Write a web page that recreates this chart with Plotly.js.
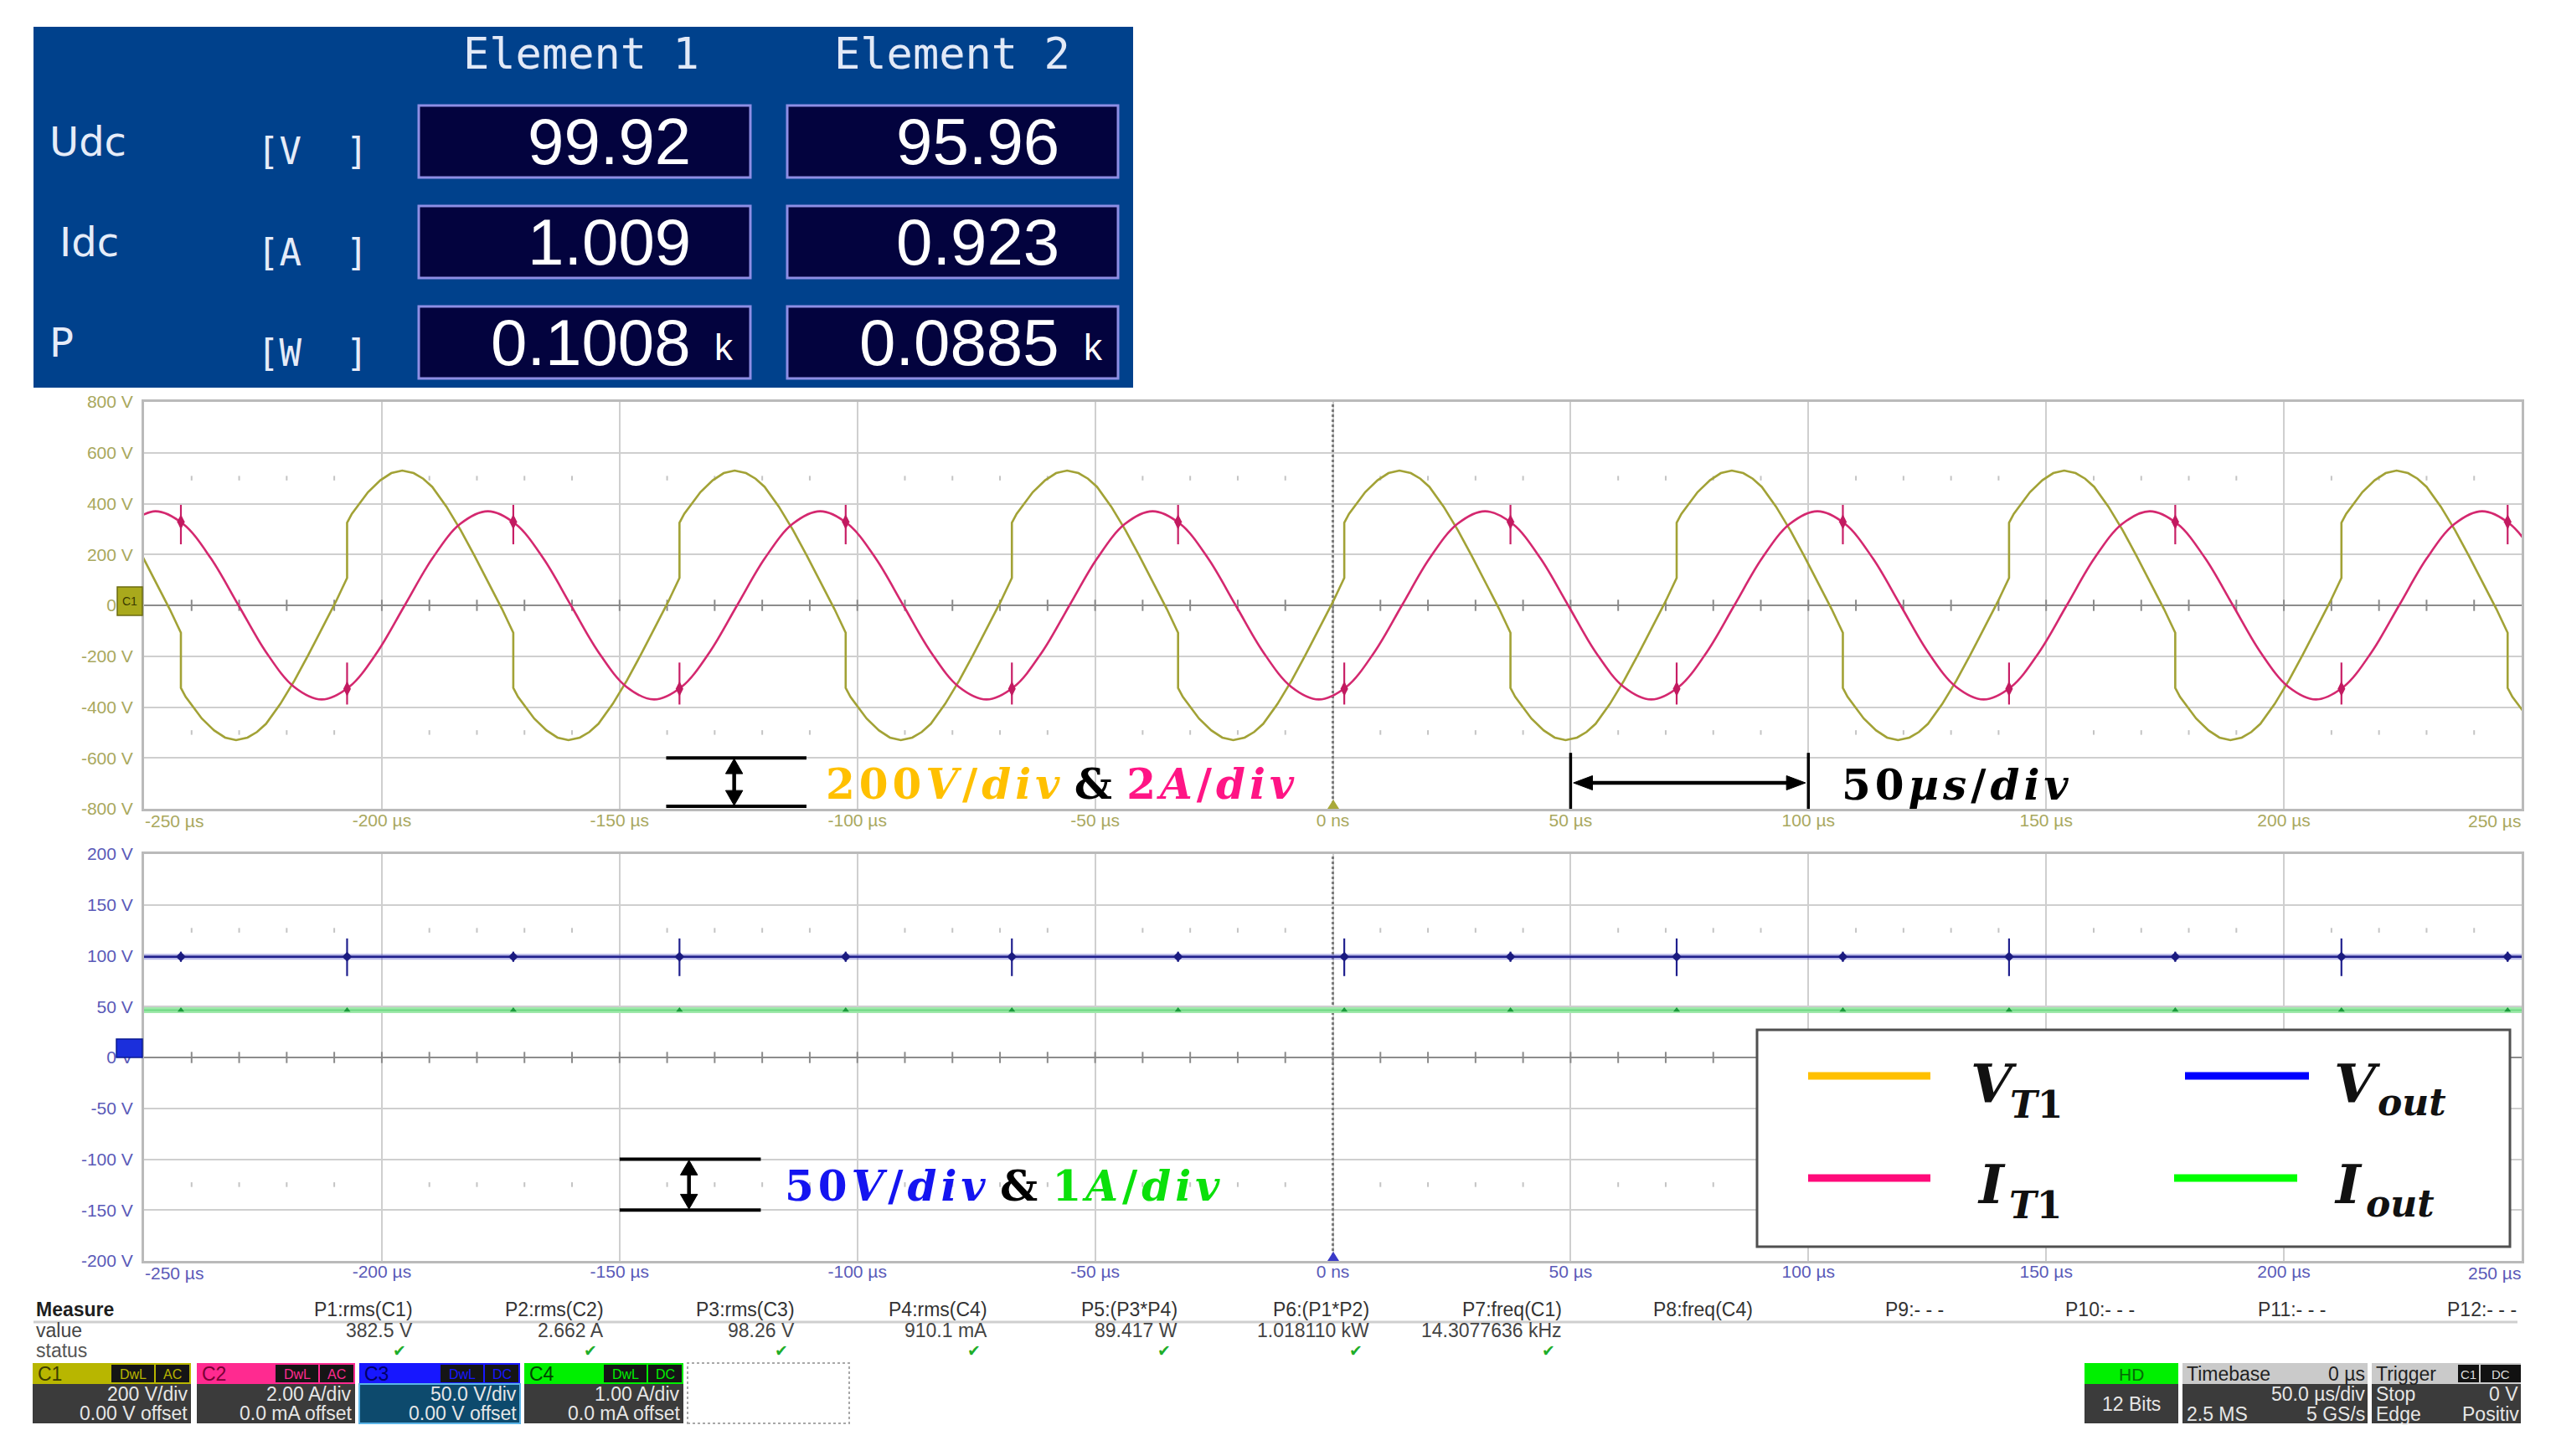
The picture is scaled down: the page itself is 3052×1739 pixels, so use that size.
<!DOCTYPE html>
<html>
<head>
<meta charset="utf-8">
<script src="https://cdn.plot.ly/plotly-3.0.1.min.js"></script>
<style>
html,body{margin:0;padding:0;background:#ffffff;}
#chart{width:3052px;height:1739px;}
</style>
</head>
<body>
<div id="chart"></div>
<script>
// ================= DATA =================
const timeTicks    = [-200,-150,-100,-50,0,50,100,150,200];
const timeTickText = ['-200 µs','-150 µs','-100 µs','-50 µs','0 ns','50 µs','100 µs','150 µs','200 µs'];
const timeEdgeText = ['-250 µs','250 µs'];
const topVoltTicks = [-800,-600,-400,-200,0,200,400,600,800];
const topVoltText  = ['-800 V','-600 V','-400 V','-200 V','0 V','200 V','400 V','600 V','800 V'];
const botVoltTicks = [-200,-150,-100,-50,0,50,100,150,200];
const botVoltText  = ['-200 V','-150 V','-100 V','-50 V','0 V','50 V','100 V','150 V','200 V'];

// VT1 switch voltage (V) vs time (µs)
const vt1_t = [
 -256.3,-253.3,-250.4,-247.5,-244.6,-242.25,
 -242.25,-241.25,-240.25,-237.85,-235.25,-232.95,-230.65,-228.25,-226.25,-224.35,-221.35,-218.35,-215.45,-212.55,-209.65,-207.3,
 -207.3,-206.3,-205.3,-202.9,-200.3,-198.0,-195.7,-193.3,-191.3,-189.4,-186.4,-183.4,-180.5,-177.6,-174.7,-172.35,
 -172.35,-171.35,-170.35,-167.95,-165.35,-163.05,-160.75,-158.35,-156.35,-154.45,-151.45,-148.45,-145.55,-142.65,-139.75,-137.4,
 -137.4,-136.4,-135.4,-133.0,-130.4,-128.1,-125.8,-123.4,-121.4,-119.5,-116.5,-113.5,-110.6,-107.7,-104.8,-102.45,
 -102.45,-101.45,-100.45,-98.05,-95.45,-93.15,-90.85,-88.45,-86.45,-84.55,-81.55,-78.55,-75.65,-72.75,-69.85,-67.5,
 -67.5,-66.5,-65.5,-63.1,-60.5,-58.2,-55.9,-53.5,-51.5,-49.6,-46.6,-43.6,-40.7,-37.8,-34.9,-32.55,
 -32.55,-31.55,-30.55,-28.15,-25.55,-23.25,-20.95,-18.55,-16.55,-14.65,-11.65,-8.65,-5.75,-2.85,0.05,2.4,
 2.4,3.4,4.4,6.8,9.4,11.7,14.0,16.4,18.4,20.3,23.3,26.3,29.2,32.1,35.0,37.35,
 37.35,38.35,39.35,41.75,44.35,46.65,48.95,51.35,53.35,55.25,58.25,61.25,64.15,67.05,69.95,72.3,
 72.3,73.3,74.3,76.7,79.3,81.6,83.9,86.3,88.3,90.2,93.2,96.2,99.1,102.0,104.9,107.25,
 107.25,108.25,109.25,111.65,114.25,116.55,118.85,121.25,123.25,125.15,128.15,131.15,134.05,136.95,139.85,142.2,
 142.2,143.2,144.2,146.6,149.2,151.5,153.8,156.2,158.2,160.1,163.1,166.1,169.0,171.9,174.8,177.15,
 177.15,178.15,179.15,181.55,184.15,186.45,188.75,191.15,193.15,195.05,198.05,201.05,203.95,206.85,209.75,212.1,
 212.1,213.1,214.1,216.5,219.1,221.4,223.7,226.1,228.1,230.0,233.0,236.0,238.9,241.8,244.7,247.05,
 247.05,248.05,249.05,251.45
];
const vt1_v = [
 388,295,195,90,-15,-108,
 -325,-360,-385,-445,-492,-520,-530,-520,-498,-466,-388,-295,-195,-90,15,108,
 325,360,385,445,492,520,530,520,498,466,388,295,195,90,-15,-108,
 -325,-360,-385,-445,-492,-520,-530,-520,-498,-466,-388,-295,-195,-90,15,108,
 325,360,385,445,492,520,530,520,498,466,388,295,195,90,-15,-108,
 -325,-360,-385,-445,-492,-520,-530,-520,-498,-466,-388,-295,-195,-90,15,108,
 325,360,385,445,492,520,530,520,498,466,388,295,195,90,-15,-108,
 -325,-360,-385,-445,-492,-520,-530,-520,-498,-466,-388,-295,-195,-90,15,108,
 325,360,385,445,492,520,530,520,498,466,388,295,195,90,-15,-108,
 -325,-360,-385,-445,-492,-520,-530,-520,-498,-466,-388,-295,-195,-90,15,108,
 325,360,385,445,492,520,530,520,498,466,388,295,195,90,-15,-108,
 -325,-360,-385,-445,-492,-520,-530,-520,-498,-466,-388,-295,-195,-90,15,108,
 325,360,385,445,492,520,530,520,498,466,388,295,195,90,-15,-108,
 -325,-360,-385,-445,-492,-520,-530,-520,-498,-466,-388,-295,-195,-90,15,108,
 325,360,385,445,492,520,530,520,498,466,388,295,195,90,-15,-108,
 -325,-360,-385,-445
];

// IT1 switch current (A) vs time (µs)
const it1_t = [
 -253.43,-247.6,-241.78,-235.95,-230.13,-224.3,-218.48,-212.65,-206.83,-201.0,-195.18,-189.35,
 -183.53,-177.7,-171.88,-166.05,-160.23,-154.4,-148.58,-142.75,-136.93,-131.1,-125.28,-119.45,
 -113.63,-107.8,-101.98,-96.15,-90.33,-84.5,-78.68,-72.85,-67.03,-61.2,-55.38,-49.55,
 -43.73,-37.9,-32.08,-26.25,-20.43,-14.6,-8.78,-2.95,2.88,8.7,14.53,20.35,
 26.18,32.0,37.83,43.65,49.48,55.3,61.13,66.95,72.78,78.6,84.43,90.25,
 96.08,101.9,107.73,113.55,119.38,125.2,131.03,136.85,142.68,148.5,154.33,160.15,
 165.98,171.8,177.63,183.45,189.28,195.1,200.93,206.75,212.58,218.4,224.23,230.05,
 235.88,241.7,247.53,253.35
];
const it1_a = [
 3.20,3.70,3.20,1.85,0,-1.85,-3.20,-3.70,-3.20,-1.85,0,1.85,
 3.20,3.70,3.20,1.85,0,-1.85,-3.20,-3.70,-3.20,-1.85,0,1.85,
 3.20,3.70,3.20,1.85,0,-1.85,-3.20,-3.70,-3.20,-1.85,0,1.85,
 3.20,3.70,3.20,1.85,0,-1.85,-3.20,-3.70,-3.20,-1.85,0,1.85,
 3.20,3.70,3.20,1.85,0,-1.85,-3.20,-3.70,-3.20,-1.85,0,1.85,
 3.20,3.70,3.20,1.85,0,-1.85,-3.20,-3.70,-3.20,-1.85,0,1.85,
 3.20,3.70,3.20,1.85,0,-1.85,-3.20,-3.70,-3.20,-1.85,0,1.85,
 3.20,3.70,3.20,1.85
];

// switching instants (µs) and the spikes seen on each trace there
const sw_t        = [-242.25,-207.3,-172.35,-137.4,-102.45,-67.5,-32.55,2.4,37.35,72.3,107.25,142.2,177.15,212.1,247.05];
const it1_spk_hi  = [3.95,-2.25,3.95,-2.25,3.95,-2.25,3.95,-2.25,3.95,-2.25,3.95,-2.25,3.95,-2.25,3.95];
const it1_spk_lo  = [2.40,-3.90,2.40,-3.90,2.40,-3.90,2.40,-3.90,2.40,-3.90,2.40,-3.90,2.40,-3.90,2.40];
const it1_spk_mid = [3.28,-3.28,3.28,-3.28,3.28,-3.28,3.28,-3.28,3.28,-3.28,3.28,-3.28,3.28,-3.28,3.28];
const vout_spk_hi = [104,117,104,117,104,117,104,117,104,117,104,117,104,117,104];
const vout_spk_lo = [94,80,94,80,94,80,94,80,94,80,94,80,94,80,94];

// output voltage (V) and output current (A)
const vout_t = [-250, 250];
const vout_v = [99.0, 99.0];
const iout_t = [-250, 250];
const iout_a = [0.93, 0.93];

// power analyzer readings
const pa_rows  = ['Udc','Idc','P'];
const pa_units = ['V','A','W'];
const pa_elem1 = ['99.92','1.009','0.1008'];
const pa_elem2 = ['95.96','0.923','0.0885'];
const pa_kilo  = ['','','k'];

// oscilloscope measurement bar
const meas_names = ['P1:rms(C1)','P2:rms(C2)','P3:rms(C3)','P4:rms(C4)','P5:(P3*P4)','P6:(P1*P2)','P7:freq(C1)','P8:freq(C4)','P9:- - -','P10:- - -','P11:- - -','P12:- - -'];
const meas_vals  = ['382.5 V','2.662 A','98.26 V','910.1 mA','89.417 W','1.018110 kW','14.3077636 kHz','','','','',''];
const meas_ok    = [1,1,1,1,1,1,1,0,0,0,0,0];
const chan_names = ['C1','C2','C3','C4'];
const chan_scale = ['200 V/div','2.00 A/div','50.0 V/div','1.00 A/div'];
const chan_off   = ['0.00 V offset','0.0 mA offset','0.00 V offset','0.0 mA offset'];
const chan_cpl   = ['AC','AC','DC','DC'];

// ================= STYLE / LAYOUT =================
const W = 3052, H = 1739;
const px = x => x / W;
const py = y => 1 - y / H;
const SANS   = 'Liberation Sans, Arial, sans-serif';
const NARROW = 'Liberation Sans Narrow, Liberation Sans, Arial, sans-serif';
const MONO   = 'DejaVu Sans Mono, monospace';
const SERIF  = 'DejaVu Serif, serif';
const OLIVE_TXT = '#a9a85e';
const BLUE_TXT  = '#5a5ab8';
const HS = '\u200A';
const sp = s => s.split('').join(HS);

const traces = [];
traces.push({x: vt1_t, y: vt1_v, xaxis:'x', yaxis:'y', mode:'lines', name:'VT1',
  line:{color:'#a2a236', width:2.6}, hoverinfo:'skip'});
traces.push({x: it1_t, y: it1_a, xaxis:'x', yaxis:'y2', mode:'lines', name:'IT1',
  line:{color:'#d4286f', width:2.6, shape:'spline', smoothing:1}, hoverinfo:'skip'});
function spikeXY(t, hi, lo){ const x=[], y=[]; t.forEach((v,i)=>{x.push(v,v,null); y.push(hi[i],lo[i],null);}); return {x, y}; }
const s1 = spikeXY(sw_t, it1_spk_hi, it1_spk_lo);
traces.push({x: s1.x, y: s1.y, xaxis:'x', yaxis:'y2', mode:'lines', line:{color:'#c81f66', width:2.2}, hoverinfo:'skip'});
traces.push({x: sw_t, y: it1_spk_mid, xaxis:'x', yaxis:'y2', mode:'markers',
  marker:{symbol:'diamond-tall', size:13, color:'#c21a60'}, hoverinfo:'skip'});

traces.push({x: vout_t, y: vout_v, xaxis:'x2', yaxis:'y3', mode:'lines', line:{color:'rgba(80,80,200,0.40)', width:7}, hoverinfo:'skip'});
traces.push({x: vout_t, y: vout_v, xaxis:'x2', yaxis:'y3', mode:'lines', name:'Vout', line:{color:'#20208e', width:2.5}, hoverinfo:'skip'});
const s2 = spikeXY(sw_t, vout_spk_hi, vout_spk_lo);
traces.push({x: s2.x, y: s2.y, xaxis:'x2', yaxis:'y3', mode:'lines', line:{color:'#20208e', width:2.2}, hoverinfo:'skip'});
traces.push({x: sw_t, y: sw_t.map(() => vout_v[0]), xaxis:'x2', yaxis:'y3', mode:'markers',
  marker:{symbol:'diamond', size:9, color:'#1a1a80'}, hoverinfo:'skip'});

traces.push({x: iout_t, y: iout_a, xaxis:'x2', yaxis:'y4', mode:'lines', name:'Iout', line:{color:'#9fe8aa', width:7}, hoverinfo:'skip'});
traces.push({x: iout_t, y: iout_a, xaxis:'x2', yaxis:'y4', mode:'lines', line:{color:'#6fd983', width:2}, hoverinfo:'skip'});
traces.push({x: sw_t, y: sw_t.map(() => iout_a[0]), xaxis:'x2', yaxis:'y4', mode:'markers',
  marker:{symbol:'triangle-up', size:7, color:'#1c9a3c'}, hoverinfo:'skip'});

function axisBase(color){
  return {showgrid:true, gridcolor:'#cfcfcf', gridwidth:2, zeroline:false, showline:true, mirror:true,
    linecolor:'#bababa', linewidth:3, ticks:'', tickfont:{family:NARROW, size:21, color:color},
    automargin:false, fixedrange:true, tickmode:'array'};
}
const xdom = [px(172), px(3011)];
const layout = {
  width:W, height:H, margin:{l:0, r:0, t:0, b:0, pad:0},
  paper_bgcolor:'#ffffff', plot_bgcolor:'#ffffff', showlegend:false, font:{family:SANS},
  xaxis: Object.assign(axisBase(OLIVE_TXT), {domain:xdom, anchor:'y', range:[-250,250], tickvals:timeTicks, ticktext:timeTickText, ticklabelstandoff:-7}),
  yaxis: Object.assign(axisBase(OLIVE_TXT), {domain:[py(966), py(480)], anchor:'x', range:[-800,800],
    tickvals:topVoltTicks, ticktext:topVoltText, zeroline:true, zerolinecolor:'#8c8c8c', zerolinewidth:2.5, ticklabelstandoff:6}),
  yaxis2: {overlaying:'y', anchor:'x', range:[-8,8], visible:false, showgrid:false, zeroline:false, fixedrange:true},
  xaxis2: Object.assign(axisBase(BLUE_TXT), {domain:xdom, anchor:'y3', range:[-250,250], tickvals:timeTicks, ticktext:timeTickText, ticklabelstandoff:-8}),
  yaxis3: Object.assign(axisBase(BLUE_TXT), {domain:[py(1506), py(1020)], anchor:'x2', range:[-200,200],
    tickvals:botVoltTicks, ticktext:botVoltText, zeroline:true, zerolinecolor:'#8c8c8c', zerolinewidth:2.5, ticklabelstandoff:6}),
  yaxis4: {overlaying:'y3', anchor:'x2', range:[-4,4], visible:false, showgrid:false, zeroline:false, fixedrange:true}
};

const shapes = [];
const ann = [];
function T(x, y, text, size, color, anchor, family, extra){
  return Object.assign({xref:'paper', yref:'paper', x:px(x), y:py(y), text:text, showarrow:false,
    xanchor:anchor || 'left', yanchor:'middle', borderpad:0,
    font:{family:family || SANS, size:size, color:color}}, extra || {});
}
function R(x0, y0, x1, y1, fill, lc, lw, extra){
  return Object.assign({type:'rect', xref:'paper', yref:'paper', x0:px(x0), x1:px(x1), y0:py(y1), y1:py(y0),
    fillcolor:fill || 'rgba(0,0,0,0)', line:{color:lc || 'rgba(0,0,0,0)', width:lw || 0}, layer:'above'}, extra || {});
}
function L(x0, y0, x1, y1, color, width, extra){
  return Object.assign({type:'line', xref:'paper', yref:'paper', x0:px(x0), x1:px(x1), y0:py(y0), y1:py(y1),
    line:{color:color, width:width}, layer:'above'}, extra || {});
}
function DL(xr, yr, x0, y0, x1, y1, width){
  return {type:'line', xref:xr, yref:yr, x0:x0, x1:x1, y0:y0, y1:y1, line:{color:'#000', width:width}, layer:'above'};
}
function TRI(xr, yr, pts){
  return {type:'path', xref:xr, yref:yr, layer:'above', fillcolor:'#000', line:{color:'#000', width:1},
    path:'M ' + pts.map(p => p[0] + ' ' + p[1]).join(' L ') + ' Z'};
}

// --- graticule details ---
[['x','y',800,22,500,9],['x2','y3',200,5.5,125,2.3]].forEach(g => {
  const [xr, yr, ymax, ctick, dotY, dotH] = g;
  shapes.push({type:'line', xref:xr, yref:yr, x0:0, x1:0, y0:-ymax, y1:ymax, line:{color:'#7c7c7c', width:3, dash:'dot'}, layer:'between'});
  for (let t = -240; t < 250; t += 10) {
    shapes.push({type:'line', xref:xr, yref:yr, x0:t, x1:t, y0:-ctick, y1:ctick, line:{color:'#8a8a8a', width:2}, layer:'between'});
    if (t % 50 !== 0) {
      shapes.push({type:'line', xref:xr, yref:yr, x0:t, x1:t, y0:dotY-dotH, y1:dotY+dotH, line:{color:'#c4c4c4', width:2}, layer:'between'});
      shapes.push({type:'line', xref:xr, yref:yr, x0:t, x1:t, y0:-dotY-dotH, y1:-dotY+dotH, line:{color:'#c4c4c4', width:2}, layer:'between'});
    }
  }
});
// edge time labels (first / last tick sit inside the frame)
ann.push(T(172, 980, timeEdgeText[0], 21, OLIVE_TXT, 'left', NARROW));
ann.push(T(3011, 980, timeEdgeText[1], 21, OLIVE_TXT, 'right', NARROW));
ann.push(T(172, 1520, timeEdgeText[0], 21, BLUE_TXT, 'left', NARROW));
ann.push(T(3011, 1520, timeEdgeText[1], 21, BLUE_TXT, 'right', NARROW));
// channel markers
shapes.push(R(140, 701, 170, 735, '#a9a91c', '#6b6b10', 1.5));
ann.push(T(155, 718, 'C1', 14, '#3a3a00', 'center', NARROW));
shapes.push(R(139, 1241, 170, 1263, '#1b2fdc', '#0a1a90', 1.5));
shapes.push({type:'path', xref:'paper', yref:'paper', layer:'above', fillcolor:'#a9a93a', line:{width:0},
  path:`M ${px(1585)} ${py(966)} L ${px(1599)} ${py(966)} L ${px(1592)} ${py(955)} Z`});
shapes.push({type:'path', xref:'paper', yref:'paper', layer:'above', fillcolor:'#3a3ac8', line:{width:0},
  path:`M ${px(1585)} ${py(1506)} L ${px(1599)} ${py(1506)} L ${px(1592)} ${py(1495)} Z`});

// --- scale annotations, top panel ---
shapes.push(DL('x','y', -140.2, -600, -110.7, -600, 4));
shapes.push(DL('x','y', -140.2, -790, -110.7, -790, 4));
shapes.push(DL('x','y', -125.9, -650, -125.9, -740, 4.5));
shapes.push(TRI('x','y', [[-125.9,-603],[-127.7,-662],[-124.1,-662]]));
shapes.push(TRI('x','y', [[-125.9,-787],[-127.7,-728],[-124.1,-728]]));
ann.push({xref:'x', yref:'y', x:-107, y:-703, xanchor:'left', yanchor:'middle', showarrow:false,
  font:{family:SERIF, size:50, color:'#000'},
  text:'<b><span style="color:#FFC000">' + sp('200') + HS + '<i>V</i>' + HS + '/' + HS + '<i>' + sp('div') + '</i></span> &amp; <span style="color:#FF1585">2' + HS + '<i>A</i>' + HS + '/' + HS + '<i>' + sp('div') + '</i></span></b>'});
// 50 µs/div
shapes.push(DL('x','y', 50, -580, 50, -800, 3.5));
shapes.push(DL('x','y', 100, -580, 100, -800, 3.5));
shapes.push(DL('x','y', 53, -698, 97, -698, 4.5));
shapes.push(TRI('x','y', [[50.6,-698],[54.6,-670],[54.6,-726]]));
shapes.push(TRI('x','y', [[99.4,-698],[95.4,-670],[95.4,-726]]));
ann.push({xref:'x', yref:'y', x:106.6, y:-706, xanchor:'left', yanchor:'middle', showarrow:false,
  font:{family:SERIF, size:50, color:'#000'},
  text:'<b>' + sp('50') + HS + '<i>' + sp('µs') + '</i>' + HS + '/' + HS + '<i>' + sp('div') + '</i></b>'});
// --- scale annotations, bottom panel ---
shapes.push(DL('x2','y3', -150, -100, -120.3, -100, 4));
shapes.push(DL('x2','y3', -150, -150, -120.3, -150, 4));
shapes.push(DL('x2','y3', -135.4, -112, -135.4, -138, 4.5));
shapes.push(TRI('x2','y3', [[-135.4,-101],[-137.2,-115.5],[-133.6,-115.5]]));
shapes.push(TRI('x2','y3', [[-135.4,-149],[-137.2,-134.5],[-133.6,-134.5]]));
ann.push({xref:'x2', yref:'y3', x:-115.7, y:-126, xanchor:'left', yanchor:'middle', showarrow:false,
  font:{family:SERIF, size:50, color:'#000'},
  text:'<b><span style="color:#1414F0">' + sp('50') + HS + '<i>V</i>' + HS + '/' + HS + '<i>' + sp('div') + '</i></span> &amp; <span style="color:#0BE00B">1' + HS + '<i>A</i>' + HS + '/' + HS + '<i>' + sp('div') + '</i></span></b>'});

// --- legend box (main symbol and subscript drawn as separate texts) ---
shapes.push(R(2098, 1230, 2997, 1489, '#ffffff', '#505050', 3));
shapes.push(L(2159, 1285, 2305, 1285, '#FFC000', 9));
shapes.push(L(2609, 1285, 2757, 1285, '#0000FF', 9));
shapes.push(L(2159, 1407, 2305, 1407, '#FF0A7A', 9));
shapes.push(L(2596, 1407, 2743, 1407, '#00FF00', 9));
ann.push(T(2352, 1294, '<b><i>V</i></b>', 64, '#111', 'left', SERIF));
ann.push(T(2399, 1319, '<b><i>T</i>1</b>', 44, '#111', 'left', SERIF));
ann.push(T(2786, 1294, '<b><i>V</i></b>', 64, '#111', 'left', SERIF));
ann.push(T(2838, 1316, '<b><i>out</i></b>', 44, '#111', 'left', SERIF));
ann.push(T(2360, 1414, '<b><i>I</i></b>', 64, '#111', 'left', SERIF));
ann.push(T(2398, 1439, '<b><i>T</i>1</b>', 44, '#111', 'left', SERIF));
ann.push(T(2786, 1414, '<b><i>I</i></b>', 64, '#111', 'left', SERIF));
ann.push(T(2824, 1437, '<b><i>out</i></b>', 44, '#111', 'left', SERIF));

// --- power analyzer panel ---
shapes.push(R(40, 32, 1353, 463, '#00418c'));
const boxX = [[500, 896], [940, 1335]];
const rowY = [[126, 212], [246, 332], [366, 452]];
ann.push(T(694, 64, 'Element 1', 52, '#e2e9f7', 'center', MONO));
ann.push(T(1137, 64, 'Element 2', 52, '#e2e9f7', 'center', MONO));
pa_rows.forEach((r, i) => {
  const yc = (rowY[i][0] + rowY[i][1]) / 2;
  shapes.push(R(boxX[0][0], rowY[i][0], boxX[0][1], rowY[i][1], '#03033e', '#8e8ee4', 3));
  shapes.push(R(boxX[1][0], rowY[i][0], boxX[1][1], rowY[i][1], '#03033e', '#8e8ee4', 3));
  ann.push(T(i === 1 ? 70 : 58, yc, r, 48, '#e6ecf8', 'left', 'DejaVu Sans, sans-serif'));
  ann.push(T(306, yc + 12, '[' + pa_units[i] + '&nbsp;&nbsp;]', 44, '#e6ecf8', 'left', MONO));
  ann.push(T(826, yc, pa_elem1[i], 78, '#ffffff', 'right', SANS));
  ann.push(T(1266, yc, pa_elem2[i], 78, '#ffffff', 'right', SANS));
  if (pa_kilo[i]) {
    ann.push(T(852, yc + 6, pa_kilo[i], 44, '#ffffff', 'left', SANS));
    ann.push(T(1293, yc + 6, pa_kilo[i], 44, '#ffffff', 'left', SANS));
  }
});

// --- measurement bar ---
const measRight = [494, 722, 950, 1180, 1407, 1636, 1866, 2094, 2322, 2550, 2778, 3006];
ann.push(T(42, 1564, '<b>Measure</b>', 23, '#1e1e1e', 'left', SANS));
ann.push(T(42, 1589, 'value', 23, '#444', 'left', SANS));
ann.push(T(42, 1613, 'status', 23, '#555', 'left', SANS));
shapes.push(L(40, 1579, 3006, 1579, '#cfcfcf', 3));
meas_names.forEach((n, i) => {
  ann.push(T(measRight[i], 1564, n, 23, '#333', 'right', SANS));
  if (meas_vals[i]) ann.push(T(measRight[i], 1589, meas_vals[i], 23, '#444', 'right', SANS));
  if (meas_ok[i]) ann.push(T(measRight[i] - 8, 1613, '✔', 19, '#1fae2a', 'right', 'DejaVu Sans, sans-serif'));
});
// channel boxes
const chanX   = [[39, 228], [235, 424], [429, 621], [626, 816]];
const chanHdr = ['#b8b600', '#ff2a90', '#1717ff', '#00f000'];
const chanLab = ['#3c3c00', '#7a0035', '#000066', '#004400'];
const chanBody= ['#3b3b3b', '#3b3b3b', '#0d4a6d', '#3b3b3b'];
chan_names.forEach((c, i) => {
  const [x0, x1] = chanX[i];
  shapes.push(R(x0, 1628, x1, 1653, chanHdr[i]));
  shapes.push(R(x0, 1653, x1, 1700, chanBody[i], i === 2 ? '#5ab4e8' : null, i === 2 ? 2 : 0));
  ann.push(T(x0 + 5, 1641, c, 23, chanLab[i], 'left', SANS));
  shapes.push(R(x1 - 95, 1630, x1 - 44, 1651, '#151515'));
  shapes.push(R(x1 - 42, 1630, x1 - 2, 1651, '#151515'));
  ann.push(T(x1 - 69.5, 1641, 'DwL', 16, chanHdr[i], 'center', NARROW));
  ann.push(T(x1 - 22, 1641, chan_cpl[i], 16, chanHdr[i], 'center', NARROW));
  ann.push(T(x1 - 3, 1665, chan_scale[i], 23, '#e6e6e6', 'right', SANS));
  ann.push(T(x1 - 3, 1688, chan_off[i], 23, '#e6e6e6', 'right', SANS));
});
shapes.push(R(821, 1628, 1014, 1700, null, '#a8a8a8', 2, {line:{color:'#a8a8a8', width:2, dash:'dot'}}));
// acquisition / timebase / trigger boxes
shapes.push(R(2489, 1628, 2601, 1653, '#00f000'));
shapes.push(R(2489, 1653, 2601, 1700, '#3b3b3b'));
ann.push(T(2545, 1641, 'HD', 21, '#066a06', 'center', SANS));
ann.push(T(2545, 1677, '12 Bits', 23, '#e6e6e6', 'center', SANS));
shapes.push(R(2606, 1628, 2827, 1653, '#cacaca'));
shapes.push(R(2606, 1653, 2827, 1700, '#3b3b3b'));
ann.push(T(2610, 1641, 'Timebase', 23, '#222', 'left', SANS));
ann.push(T(2825, 1641, '0 µs', 23, '#222', 'right', SANS));
ann.push(T(2825, 1665, '50.0 µs/div', 23, '#e6e6e6', 'right', SANS));
ann.push(T(2610, 1689, '2.5 MS', 23, '#e6e6e6', 'left', SANS));
ann.push(T(2825, 1689, '5 GS/s', 23, '#e6e6e6', 'right', SANS));
shapes.push(R(2832, 1628, 3010, 1653, '#cacaca'));
shapes.push(R(2832, 1653, 3010, 1700, '#3b3b3b'));
shapes.push(R(2935, 1630, 2960, 1651, '#111'));
shapes.push(R(2962, 1630, 3010, 1651, '#111'));
ann.push(T(2836, 1641, 'Trigger', 23, '#222', 'left', SANS));
ann.push(T(2947.5, 1641, 'C1', 15, '#dddddd', 'center', NARROW));
ann.push(T(2986, 1641, 'DC', 15, '#dddddd', 'center', NARROW));
ann.push(T(2836, 1665, 'Stop', 23, '#e6e6e6', 'left', SANS));
ann.push(T(3008, 1665, '0 V', 23, '#e6e6e6', 'right', SANS));
ann.push(T(2836, 1689, 'Edge', 23, '#e6e6e6', 'left', SANS));
ann.push(T(3009, 1689, 'Positiv', 23, '#e6e6e6', 'right', SANS));

layout.shapes = shapes;
layout.annotations = ann;

Plotly.newPlot('chart', traces, layout, {displayModeBar:false, staticPlot:true});
</script>
</body>
</html>
